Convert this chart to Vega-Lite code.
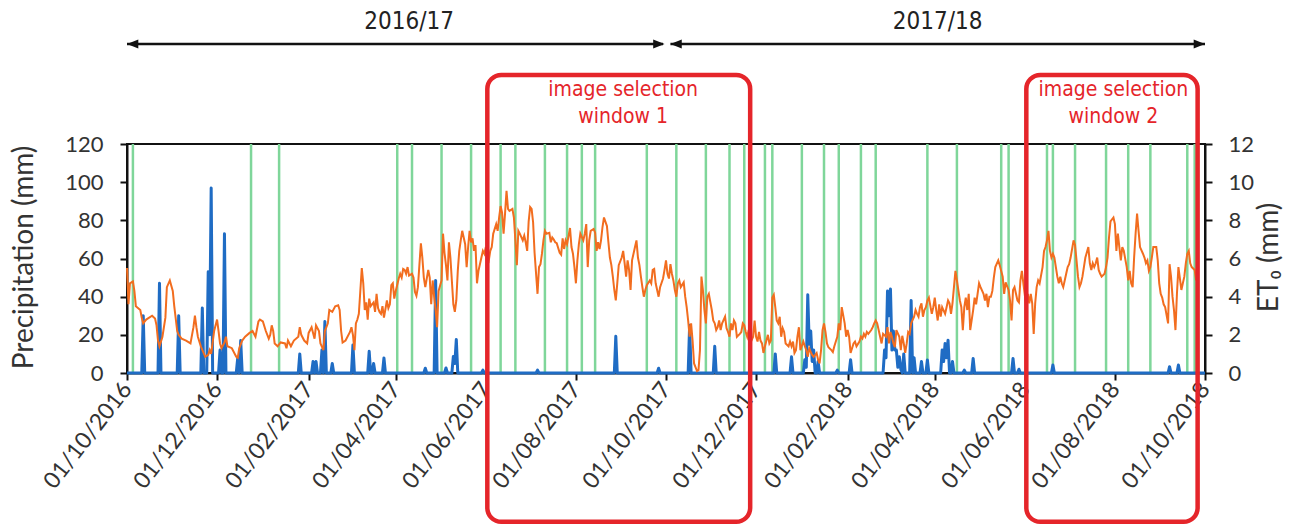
{
  "$schema": "https://vega.github.io/schema/vega-lite/v6.json",
  "width": 1078,
  "height": 229,
  "autosize": "none",
  "padding": {"left": 127, "top": 144, "right": 106, "bottom": 153},
  "background": "white",
  "config": {
    "view": {"stroke": "#111111", "strokeWidth": 2},
    "font": "Lato",
    "axis": {"grid": false, "labelFont": "Lato", "titleFont": "Lato", "labelColor": "#333333", "titleColor": "#333333", "titleFontWeight": "normal", "domainColor": "#111111", "domainWidth": 2, "tickColor": "#111111", "tickWidth": 2, "tickSize": 7}
  },
  "datasets": {
    "images": [
      {"d": "2016-10-05"}, {"d": "2016-12-24"}, {"d": "2017-01-12"}, {"d": "2017-04-02"}, {"d": "2017-04-12"},
      {"d": "2017-05-02"}, {"d": "2017-05-22"}, {"d": "2017-06-11"}, {"d": "2017-06-21"}, {"d": "2017-07-11"},
      {"d": "2017-07-26"}, {"d": "2017-08-05"}, {"d": "2017-08-14"}, {"d": "2017-09-18"}, {"d": "2017-10-08"},
      {"d": "2017-10-28"}, {"d": "2017-11-13"}, {"d": "2017-11-23"}, {"d": "2017-12-07"}, {"d": "2017-12-12"},
      {"d": "2018-01-01"}, {"d": "2018-01-16"}, {"d": "2018-01-26"}, {"d": "2018-02-10"}, {"d": "2018-02-20"},
      {"d": "2018-03-27"}, {"d": "2018-04-16"}, {"d": "2018-05-16"}, {"d": "2018-05-21"}, {"d": "2018-06-16"},
      {"d": "2018-06-20"}, {"d": "2018-07-05"}, {"d": "2018-07-26"}, {"d": "2018-08-10"}, {"d": "2018-08-25"},
      {"d": "2018-09-19"}, {"d": "2018-09-24"}
    ],
    "precip": [
      {"d": "2016-10-01", "p": 0}, {"d": "2016-10-11", "p": 0}, {"d": "2016-10-12", "p": 30}, {"d": "2016-10-13", "p": 0},
      {"d": "2016-10-22", "p": 0}, {"d": "2016-10-23", "p": 47}, {"d": "2016-10-24", "p": 0},
      {"d": "2016-11-04", "p": 0}, {"d": "2016-11-05", "p": 30}, {"d": "2016-11-06", "p": 0},
      {"d": "2016-11-20", "p": 0}, {"d": "2016-11-21", "p": 34}, {"d": "2016-11-22", "p": 0},
      {"d": "2016-11-24", "p": 0}, {"d": "2016-11-25", "p": 53}, {"d": "2016-11-26", "p": 20}, {"d": "2016-11-27", "p": 97}, {"d": "2016-11-28", "p": 0},
      {"d": "2016-12-02", "p": 0}, {"d": "2016-12-03", "p": 12}, {"d": "2016-12-04", "p": 0},
      {"d": "2016-12-05", "p": 0}, {"d": "2016-12-06", "p": 73}, {"d": "2016-12-07", "p": 0},
      {"d": "2016-12-14", "p": 0}, {"d": "2016-12-15", "p": 8}, {"d": "2016-12-16", "p": 0}, {"d": "2016-12-17", "p": 17}, {"d": "2016-12-18", "p": 0},
      {"d": "2017-01-25", "p": 0}, {"d": "2017-01-26", "p": 10}, {"d": "2017-01-27", "p": 0},
      {"d": "2017-02-03", "p": 0}, {"d": "2017-02-04", "p": 6}, {"d": "2017-02-05", "p": 0}, {"d": "2017-02-06", "p": 6}, {"d": "2017-02-07", "p": 0},
      {"d": "2017-02-09", "p": 0}, {"d": "2017-02-10", "p": 12}, {"d": "2017-02-11", "p": 0}, {"d": "2017-02-12", "p": 27}, {"d": "2017-02-13", "p": 0},
      {"d": "2017-02-16", "p": 0}, {"d": "2017-02-17", "p": 5}, {"d": "2017-02-18", "p": 0},
      {"d": "2017-03-02", "p": 0}, {"d": "2017-03-03", "p": 14.7}, {"d": "2017-03-04", "p": 0},
      {"d": "2017-03-13", "p": 0}, {"d": "2017-03-14", "p": 11.4}, {"d": "2017-03-15", "p": 0},
      {"d": "2017-03-16", "p": 0}, {"d": "2017-03-17", "p": 5}, {"d": "2017-03-18", "p": 0},
      {"d": "2017-03-23", "p": 0}, {"d": "2017-03-24", "p": 7.9}, {"d": "2017-03-25", "p": 0},
      {"d": "2017-04-20", "p": 0}, {"d": "2017-04-21", "p": 2.5}, {"d": "2017-04-22", "p": 0},
      {"d": "2017-04-27", "p": 0}, {"d": "2017-04-28", "p": 48.5}, {"d": "2017-04-29", "p": 0},
      {"d": "2017-05-04", "p": 0}, {"d": "2017-05-05", "p": 2.6}, {"d": "2017-05-06", "p": 0},
      {"d": "2017-05-09", "p": 0}, {"d": "2017-05-10", "p": 8.7}, {"d": "2017-05-11", "p": 5}, {"d": "2017-05-12", "p": 17.5}, {"d": "2017-05-13", "p": 0},
      {"d": "2017-05-29", "p": 0}, {"d": "2017-05-30", "p": 1.5}, {"d": "2017-05-31", "p": 0},
      {"d": "2017-07-05", "p": 0}, {"d": "2017-07-06", "p": 1.5}, {"d": "2017-07-07", "p": 0},
      {"d": "2017-08-27", "p": 0}, {"d": "2017-08-28", "p": 19.2}, {"d": "2017-08-29", "p": 0},
      {"d": "2017-09-25", "p": 0}, {"d": "2017-09-26", "p": 2.5}, {"d": "2017-09-27", "p": 0},
      {"d": "2017-10-16", "p": 0}, {"d": "2017-10-17", "p": 25}, {"d": "2017-10-18", "p": 0},
      {"d": "2017-11-02", "p": 0}, {"d": "2017-11-03", "p": 14}, {"d": "2017-11-04", "p": 0},
      {"d": "2017-12-13", "p": 0}, {"d": "2017-12-14", "p": 10}, {"d": "2017-12-15", "p": 0},
      {"d": "2017-12-24", "p": 0}, {"d": "2017-12-25", "p": 8.5}, {"d": "2017-12-26", "p": 0},
      {"d": "2018-01-02", "p": 0}, {"d": "2018-01-03", "p": 7}, {"d": "2018-01-04", "p": 3}, {"d": "2018-01-05", "p": 41}, {"d": "2018-01-06", "p": 15},
      {"d": "2018-01-07", "p": 22}, {"d": "2018-01-08", "p": 6}, {"d": "2018-01-09", "p": 12}, {"d": "2018-01-10", "p": 0},
      {"d": "2018-01-11", "p": 0}, {"d": "2018-01-12", "p": 6}, {"d": "2018-01-13", "p": 0},
      {"d": "2018-01-24", "p": 0}, {"d": "2018-01-25", "p": 1.5}, {"d": "2018-01-26", "p": 0},
      {"d": "2018-02-02", "p": 0}, {"d": "2018-02-03", "p": 7}, {"d": "2018-02-04", "p": 0},
      {"d": "2018-02-25", "p": 0}, {"d": "2018-02-26", "p": 12}, {"d": "2018-02-27", "p": 8}, {"d": "2018-02-28", "p": 43}, {"d": "2018-03-01", "p": 30},
      {"d": "2018-03-02", "p": 44}, {"d": "2018-03-03", "p": 12}, {"d": "2018-03-04", "p": 22}, {"d": "2018-03-05", "p": 12}, {"d": "2018-03-06", "p": 12},
      {"d": "2018-03-07", "p": 3}, {"d": "2018-03-08", "p": 8.5}, {"d": "2018-03-09", "p": 2}, {"d": "2018-03-10", "p": 0},
      {"d": "2018-03-11", "p": 10}, {"d": "2018-03-12", "p": 0},
      {"d": "2018-03-15", "p": 0}, {"d": "2018-03-16", "p": 38}, {"d": "2018-03-17", "p": 0}, {"d": "2018-03-18", "p": 8}, {"d": "2018-03-19", "p": 0},
      {"d": "2018-03-22", "p": 0}, {"d": "2018-03-23", "p": 6}, {"d": "2018-03-24", "p": 0},
      {"d": "2018-03-26", "p": 0}, {"d": "2018-03-27", "p": 6.8}, {"d": "2018-03-28", "p": 0},
      {"d": "2018-04-05", "p": 0}, {"d": "2018-04-06", "p": 12}, {"d": "2018-04-07", "p": 6}, {"d": "2018-04-08", "p": 15.5}, {"d": "2018-04-09", "p": 8},
      {"d": "2018-04-10", "p": 17.2}, {"d": "2018-04-11", "p": 0}, {"d": "2018-04-12", "p": 0}, {"d": "2018-04-13", "p": 6}, {"d": "2018-04-14", "p": 0},
      {"d": "2018-04-20", "p": 0}, {"d": "2018-04-21", "p": 1.5}, {"d": "2018-04-22", "p": 0},
      {"d": "2018-04-26", "p": 0}, {"d": "2018-04-27", "p": 7.6}, {"d": "2018-04-28", "p": 0},
      {"d": "2018-05-23", "p": 0}, {"d": "2018-05-24", "p": 7.6}, {"d": "2018-05-25", "p": 0},
      {"d": "2018-05-27", "p": 0}, {"d": "2018-05-28", "p": 2}, {"d": "2018-05-29", "p": 0},
      {"d": "2018-06-19", "p": 0}, {"d": "2018-06-20", "p": 4.2}, {"d": "2018-06-21", "p": 0},
      {"d": "2018-09-06", "p": 0}, {"d": "2018-09-07", "p": 3.3}, {"d": "2018-09-08", "p": 0},
      {"d": "2018-09-12", "p": 0}, {"d": "2018-09-13", "p": 4.2}, {"d": "2018-09-14", "p": 0},
      {"d": "2018-10-01", "p": 0}
    ],
    "et0": [
      {"d": "2016-10-01", "et": 5.5}, {"d": "2016-10-02", "et": 3.6}, {"d": "2016-10-03", "et": 4.7}, {"d": "2016-10-05", "et": 4.8}, {"d": "2016-10-06", "et": 4.3},
      {"d": "2016-10-07", "et": 3.5}, {"d": "2016-10-10", "et": 3.3}, {"d": "2016-10-11", "et": 2.9}, {"d": "2016-10-12", "et": 2.6}, {"d": "2016-10-14", "et": 2.8},
      {"d": "2016-10-18", "et": 3.0}, {"d": "2016-10-20", "et": 2.85}, {"d": "2016-10-21", "et": 2.5}, {"d": "2016-10-22", "et": 1.7}, {"d": "2016-10-23", "et": 1.4},
      {"d": "2016-10-25", "et": 1.9}, {"d": "2016-10-27", "et": 2.9}, {"d": "2016-10-28", "et": 4.5}, {"d": "2016-10-30", "et": 4.85},
      {"d": "2016-11-01", "et": 4.3}, {"d": "2016-11-02", "et": 3.5}, {"d": "2016-11-04", "et": 2.2}, {"d": "2016-11-05", "et": 2.0}, {"d": "2016-11-07", "et": 1.8},
      {"d": "2016-11-10", "et": 1.7}, {"d": "2016-11-13", "et": 1.55}, {"d": "2016-11-15", "et": 2.4}, {"d": "2016-11-16", "et": 3.0}, {"d": "2016-11-17", "et": 2.4},
      {"d": "2016-11-18", "et": 1.9}, {"d": "2016-11-20", "et": 1.4}, {"d": "2016-11-23", "et": 0.85}, {"d": "2016-11-25", "et": 0.95}, {"d": "2016-11-26", "et": 1.2},
      {"d": "2016-11-27", "et": 1.0}, {"d": "2016-11-29", "et": 2.2},
      {"d": "2016-12-01", "et": 2.8}, {"d": "2016-12-02", "et": 2.2}, {"d": "2016-12-03", "et": 1.55}, {"d": "2016-12-04", "et": 1.3}, {"d": "2016-12-06", "et": 1.6},
      {"d": "2016-12-07", "et": 1.9}, {"d": "2016-12-08", "et": 1.4}, {"d": "2016-12-11", "et": 1.3}, {"d": "2016-12-13", "et": 1.0}, {"d": "2016-12-14", "et": 0.85},
      {"d": "2016-12-15", "et": 0.8}, {"d": "2016-12-16", "et": 1.3}, {"d": "2016-12-18", "et": 1.7}, {"d": "2016-12-20", "et": 1.9}, {"d": "2016-12-23", "et": 2.1},
      {"d": "2016-12-25", "et": 2.2}, {"d": "2016-12-27", "et": 1.9}, {"d": "2016-12-29", "et": 2.7}, {"d": "2016-12-30", "et": 2.8},
      {"d": "2017-01-01", "et": 2.7}, {"d": "2017-01-03", "et": 2.2}, {"d": "2017-01-05", "et": 1.8}, {"d": "2017-01-06", "et": 2.0}, {"d": "2017-01-07", "et": 2.5},
      {"d": "2017-01-08", "et": 2.2}, {"d": "2017-01-09", "et": 1.55}, {"d": "2017-01-11", "et": 1.4}, {"d": "2017-01-13", "et": 1.6}, {"d": "2017-01-16", "et": 1.55},
      {"d": "2017-01-17", "et": 1.3}, {"d": "2017-01-18", "et": 1.7}, {"d": "2017-01-20", "et": 1.4}, {"d": "2017-01-22", "et": 1.7}, {"d": "2017-01-25", "et": 1.9},
      {"d": "2017-01-26", "et": 2.4}, {"d": "2017-01-27", "et": 2.0}, {"d": "2017-01-29", "et": 1.7}, {"d": "2017-01-31", "et": 1.55},
      {"d": "2017-02-01", "et": 2.1}, {"d": "2017-02-03", "et": 2.4}, {"d": "2017-02-05", "et": 1.8}, {"d": "2017-02-06", "et": 2.5}, {"d": "2017-02-08", "et": 2.2},
      {"d": "2017-02-09", "et": 1.55}, {"d": "2017-02-11", "et": 1.2}, {"d": "2017-02-12", "et": 2.2}, {"d": "2017-02-14", "et": 2.6}, {"d": "2017-02-15", "et": 3.3},
      {"d": "2017-02-17", "et": 3.2}, {"d": "2017-02-19", "et": 3.5}, {"d": "2017-02-21", "et": 3.55}, {"d": "2017-02-22", "et": 3.3}, {"d": "2017-02-23", "et": 2.2},
      {"d": "2017-02-24", "et": 1.6}, {"d": "2017-02-26", "et": 1.7},
      {"d": "2017-03-01", "et": 2.15}, {"d": "2017-03-02", "et": 2.4}, {"d": "2017-03-03", "et": 2.0}, {"d": "2017-03-04", "et": 1.2}, {"d": "2017-03-05", "et": 2.6},
      {"d": "2017-03-06", "et": 2.8}, {"d": "2017-03-07", "et": 3.1}, {"d": "2017-03-08", "et": 4.3}, {"d": "2017-03-09", "et": 5.5}, {"d": "2017-03-10", "et": 4.7},
      {"d": "2017-03-11", "et": 3.3}, {"d": "2017-03-12", "et": 3.7}, {"d": "2017-03-13", "et": 2.8}, {"d": "2017-03-14", "et": 3.9}, {"d": "2017-03-15", "et": 3.5},
      {"d": "2017-03-17", "et": 3.7}, {"d": "2017-03-18", "et": 3.2}, {"d": "2017-03-19", "et": 4.15}, {"d": "2017-03-20", "et": 3.4}, {"d": "2017-03-21", "et": 3.2},
      {"d": "2017-03-22", "et": 3.1}, {"d": "2017-03-23", "et": 3.5}, {"d": "2017-03-24", "et": 2.9}, {"d": "2017-03-26", "et": 3.8}, {"d": "2017-03-27", "et": 3.4},
      {"d": "2017-03-28", "et": 3.6}, {"d": "2017-03-29", "et": 4.6}, {"d": "2017-03-30", "et": 4.7}, {"d": "2017-03-31", "et": 3.9},
      {"d": "2017-04-01", "et": 4.3}, {"d": "2017-04-03", "et": 4.95}, {"d": "2017-04-04", "et": 5.2}, {"d": "2017-04-05", "et": 5.0}, {"d": "2017-04-06", "et": 5.45},
      {"d": "2017-04-07", "et": 5.4}, {"d": "2017-04-08", "et": 5.2}, {"d": "2017-04-09", "et": 5.55}, {"d": "2017-04-10", "et": 5.1}, {"d": "2017-04-12", "et": 5.2},
      {"d": "2017-04-13", "et": 5.0}, {"d": "2017-04-14", "et": 4.25}, {"d": "2017-04-15", "et": 4.05}, {"d": "2017-04-16", "et": 4.5}, {"d": "2017-04-17", "et": 5.65},
      {"d": "2017-04-18", "et": 6.8}, {"d": "2017-04-19", "et": 6.05}, {"d": "2017-04-20", "et": 5.0}, {"d": "2017-04-21", "et": 4.5}, {"d": "2017-04-23", "et": 5.4},
      {"d": "2017-04-24", "et": 5.0}, {"d": "2017-04-25", "et": 3.6}, {"d": "2017-04-26", "et": 4.85}, {"d": "2017-04-27", "et": 4.0}, {"d": "2017-04-28", "et": 3.3},
      {"d": "2017-04-29", "et": 2.4}, {"d": "2017-04-30", "et": 4.3},
      {"d": "2017-05-02", "et": 4.85}, {"d": "2017-05-03", "et": 7.3}, {"d": "2017-05-04", "et": 6.3}, {"d": "2017-05-05", "et": 5.65}, {"d": "2017-05-06", "et": 4.85},
      {"d": "2017-05-07", "et": 6.85}, {"d": "2017-05-08", "et": 6.05}, {"d": "2017-05-10", "et": 3.6}, {"d": "2017-05-11", "et": 3.2}, {"d": "2017-05-12", "et": 3.8},
      {"d": "2017-05-13", "et": 5.35}, {"d": "2017-05-14", "et": 6.4}, {"d": "2017-05-15", "et": 6.95}, {"d": "2017-05-16", "et": 7.45}, {"d": "2017-05-18", "et": 6.75},
      {"d": "2017-05-19", "et": 5.55}, {"d": "2017-05-20", "et": 6.6}, {"d": "2017-05-21", "et": 7.45}, {"d": "2017-05-22", "et": 6.85}, {"d": "2017-05-23", "et": 7.05},
      {"d": "2017-05-24", "et": 6.4}, {"d": "2017-05-25", "et": 6.7}, {"d": "2017-05-26", "et": 4.7}, {"d": "2017-05-27", "et": 5.35}, {"d": "2017-05-29", "et": 6.05},
      {"d": "2017-05-30", "et": 6.4}, {"d": "2017-05-31", "et": 6.25},
      {"d": "2017-06-01", "et": 6.6}, {"d": "2017-06-02", "et": 6.05}, {"d": "2017-06-03", "et": 5.9}, {"d": "2017-06-04", "et": 6.4}, {"d": "2017-06-05", "et": 6.6},
      {"d": "2017-06-06", "et": 7.3}, {"d": "2017-06-08", "et": 7.8}, {"d": "2017-06-09", "et": 7.45}, {"d": "2017-06-10", "et": 8.15}, {"d": "2017-06-11", "et": 8.75},
      {"d": "2017-06-12", "et": 8.4}, {"d": "2017-06-13", "et": 7.3}, {"d": "2017-06-14", "et": 8.35}, {"d": "2017-06-15", "et": 9.55}, {"d": "2017-06-16", "et": 8.6},
      {"d": "2017-06-17", "et": 8.5}, {"d": "2017-06-19", "et": 8.6}, {"d": "2017-06-20", "et": 8.15}, {"d": "2017-06-21", "et": 6.95}, {"d": "2017-06-22", "et": 5.65},
      {"d": "2017-06-23", "et": 7.45}, {"d": "2017-06-24", "et": 7.3}, {"d": "2017-06-26", "et": 6.95}, {"d": "2017-06-27", "et": 7.2}, {"d": "2017-06-28", "et": 6.85},
      {"d": "2017-06-29", "et": 6.4}, {"d": "2017-06-30", "et": 7.95},
      {"d": "2017-07-01", "et": 8.7}, {"d": "2017-07-02", "et": 8.6}, {"d": "2017-07-03", "et": 7.9}, {"d": "2017-07-04", "et": 6.3}, {"d": "2017-07-06", "et": 4.15},
      {"d": "2017-07-07", "et": 5.55}, {"d": "2017-07-08", "et": 5.7}, {"d": "2017-07-09", "et": 6.25}, {"d": "2017-07-10", "et": 6.95}, {"d": "2017-07-11", "et": 7.45},
      {"d": "2017-07-12", "et": 7.3}, {"d": "2017-07-14", "et": 7.35}, {"d": "2017-07-15", "et": 6.85}, {"d": "2017-07-16", "et": 7.1}, {"d": "2017-07-17", "et": 7.0},
      {"d": "2017-07-18", "et": 6.85}, {"d": "2017-07-19", "et": 6.8}, {"d": "2017-07-21", "et": 6.3}, {"d": "2017-07-22", "et": 6.2}, {"d": "2017-07-23", "et": 7.05},
      {"d": "2017-07-24", "et": 6.5}, {"d": "2017-07-25", "et": 6.95}, {"d": "2017-07-26", "et": 6.75}, {"d": "2017-07-28", "et": 7.6}, {"d": "2017-07-29", "et": 6.6},
      {"d": "2017-07-30", "et": 6.25}, {"d": "2017-07-31", "et": 5.55},
      {"d": "2017-08-01", "et": 4.7}, {"d": "2017-08-02", "et": 5.9}, {"d": "2017-08-03", "et": 6.75}, {"d": "2017-08-04", "et": 7.3}, {"d": "2017-08-06", "et": 6.95},
      {"d": "2017-08-07", "et": 7.3}, {"d": "2017-08-08", "et": 7.8}, {"d": "2017-08-09", "et": 5.55}, {"d": "2017-08-10", "et": 6.95}, {"d": "2017-08-11", "et": 7.45},
      {"d": "2017-08-13", "et": 7.55}, {"d": "2017-08-14", "et": 7.35}, {"d": "2017-08-15", "et": 6.4}, {"d": "2017-08-16", "et": 6.85}, {"d": "2017-08-17", "et": 6.5},
      {"d": "2017-08-18", "et": 6.95}, {"d": "2017-08-19", "et": 7.65}, {"d": "2017-08-20", "et": 8.15}, {"d": "2017-08-22", "et": 7.7}, {"d": "2017-08-23", "et": 6.85},
      {"d": "2017-08-24", "et": 6.05}, {"d": "2017-08-25", "et": 5.65}, {"d": "2017-08-26", "et": 5.05}, {"d": "2017-08-27", "et": 4.35}, {"d": "2017-08-28", "et": 3.8},
      {"d": "2017-08-29", "et": 4.7}, {"d": "2017-08-30", "et": 5.65},
      {"d": "2017-09-01", "et": 6.05}, {"d": "2017-09-02", "et": 6.4}, {"d": "2017-09-03", "et": 5.75}, {"d": "2017-09-04", "et": 5.05}, {"d": "2017-09-05", "et": 5.9},
      {"d": "2017-09-06", "et": 5.4}, {"d": "2017-09-07", "et": 4.35}, {"d": "2017-09-08", "et": 5.9}, {"d": "2017-09-10", "et": 6.6}, {"d": "2017-09-11", "et": 6.95},
      {"d": "2017-09-12", "et": 6.05}, {"d": "2017-09-13", "et": 5.65}, {"d": "2017-09-14", "et": 5.05}, {"d": "2017-09-15", "et": 4.5}, {"d": "2017-09-16", "et": 4.0},
      {"d": "2017-09-17", "et": 4.35}, {"d": "2017-09-18", "et": 4.6}, {"d": "2017-09-20", "et": 4.85}, {"d": "2017-09-21", "et": 4.7}, {"d": "2017-09-22", "et": 5.4},
      {"d": "2017-09-23", "et": 5.45}, {"d": "2017-09-24", "et": 4.7}, {"d": "2017-09-25", "et": 4.35}, {"d": "2017-09-26", "et": 4.0}, {"d": "2017-09-27", "et": 4.5},
      {"d": "2017-09-29", "et": 4.95}, {"d": "2017-09-30", "et": 5.4},
      {"d": "2017-10-01", "et": 5.9}, {"d": "2017-10-02", "et": 5.2}, {"d": "2017-10-03", "et": 4.95}, {"d": "2017-10-04", "et": 5.7}, {"d": "2017-10-05", "et": 5.2},
      {"d": "2017-10-06", "et": 4.85}, {"d": "2017-10-07", "et": 4.35}, {"d": "2017-10-08", "et": 4.0}, {"d": "2017-10-09", "et": 4.7}, {"d": "2017-10-10", "et": 4.85},
      {"d": "2017-10-11", "et": 4.5}, {"d": "2017-10-13", "et": 4.75}, {"d": "2017-10-14", "et": 4.0}, {"d": "2017-10-15", "et": 3.45}, {"d": "2017-10-16", "et": 2.75},
      {"d": "2017-10-17", "et": 1.9}, {"d": "2017-10-18", "et": 2.6}, {"d": "2017-10-19", "et": 1.7}, {"d": "2017-10-20", "et": 0.5}, {"d": "2017-10-22", "et": 0.1},
      {"d": "2017-10-23", "et": 0.15}, {"d": "2017-10-24", "et": 1.2}, {"d": "2017-10-25", "et": 5.05}, {"d": "2017-10-26", "et": 4.35}, {"d": "2017-10-27", "et": 3.3},
      {"d": "2017-10-28", "et": 2.6}, {"d": "2017-10-29", "et": 4.0}, {"d": "2017-10-30", "et": 4.15},
      {"d": "2017-11-01", "et": 3.3}, {"d": "2017-11-02", "et": 2.75}, {"d": "2017-11-03", "et": 2.6}, {"d": "2017-11-04", "et": 2.25}, {"d": "2017-11-05", "et": 2.4},
      {"d": "2017-11-06", "et": 2.75}, {"d": "2017-11-07", "et": 2.25}, {"d": "2017-11-08", "et": 2.6}, {"d": "2017-11-10", "et": 2.95}, {"d": "2017-11-11", "et": 2.35},
      {"d": "2017-11-12", "et": 2.15}, {"d": "2017-11-13", "et": 1.9}, {"d": "2017-11-14", "et": 2.6}, {"d": "2017-11-15", "et": 2.25}, {"d": "2017-11-16", "et": 2.75},
      {"d": "2017-11-17", "et": 2.6}, {"d": "2017-11-18", "et": 1.9}, {"d": "2017-11-20", "et": 2.05}, {"d": "2017-11-21", "et": 2.15}, {"d": "2017-11-22", "et": 2.6},
      {"d": "2017-11-23", "et": 2.5}, {"d": "2017-11-24", "et": 2.15}, {"d": "2017-11-25", "et": 1.9}, {"d": "2017-11-26", "et": 2.25}, {"d": "2017-11-27", "et": 1.55},
      {"d": "2017-11-29", "et": 1.9}, {"d": "2017-11-30", "et": 2.75},
      {"d": "2017-12-01", "et": 1.9}, {"d": "2017-12-02", "et": 1.65}, {"d": "2017-12-03", "et": 2.15}, {"d": "2017-12-04", "et": 1.7}, {"d": "2017-12-05", "et": 1.55},
      {"d": "2017-12-06", "et": 1.05}, {"d": "2017-12-07", "et": 1.4}, {"d": "2017-12-09", "et": 2.0}, {"d": "2017-12-10", "et": 1.55}, {"d": "2017-12-11", "et": 1.7},
      {"d": "2017-12-12", "et": 3.95}, {"d": "2017-12-13", "et": 4.1}, {"d": "2017-12-14", "et": 3.45}, {"d": "2017-12-15", "et": 2.75}, {"d": "2017-12-16", "et": 2.6},
      {"d": "2017-12-17", "et": 2.95}, {"d": "2017-12-18", "et": 1.9}, {"d": "2017-12-19", "et": 2.35}, {"d": "2017-12-20", "et": 2.15}, {"d": "2017-12-21", "et": 1.55},
      {"d": "2017-12-23", "et": 1.4}, {"d": "2017-12-24", "et": 1.65}, {"d": "2017-12-25", "et": 1.4}, {"d": "2017-12-26", "et": 1.65}, {"d": "2017-12-27", "et": 1.05},
      {"d": "2017-12-28", "et": 1.2}, {"d": "2017-12-29", "et": 1.9}, {"d": "2017-12-30", "et": 2.4}, {"d": "2017-12-31", "et": 1.2},
      {"d": "2018-01-02", "et": 1.65}, {"d": "2018-01-03", "et": 1.4}, {"d": "2018-01-04", "et": 1.2}, {"d": "2018-01-05", "et": 0.85}, {"d": "2018-01-06", "et": 1.3},
      {"d": "2018-01-07", "et": 1.1}, {"d": "2018-01-08", "et": 0.95}, {"d": "2018-01-09", "et": 0.85}, {"d": "2018-01-11", "et": 1.05}, {"d": "2018-01-12", "et": 0.7},
      {"d": "2018-01-13", "et": 0.5}, {"d": "2018-01-14", "et": 1.2}, {"d": "2018-01-15", "et": 2.25}, {"d": "2018-01-16", "et": 2.6}, {"d": "2018-01-17", "et": 2.15},
      {"d": "2018-01-18", "et": 1.55}, {"d": "2018-01-19", "et": 1.35}, {"d": "2018-01-21", "et": 1.2}, {"d": "2018-01-22", "et": 1.1}, {"d": "2018-01-23", "et": 1.4},
      {"d": "2018-01-24", "et": 1.65}, {"d": "2018-01-25", "et": 1.9}, {"d": "2018-01-26", "et": 2.6}, {"d": "2018-01-27", "et": 2.25}, {"d": "2018-01-28", "et": 3.45},
      {"d": "2018-01-30", "et": 2.6}, {"d": "2018-01-31", "et": 1.9},
      {"d": "2018-02-01", "et": 2.25}, {"d": "2018-02-02", "et": 1.9}, {"d": "2018-02-03", "et": 1.05}, {"d": "2018-02-04", "et": 1.3}, {"d": "2018-02-05", "et": 1.55},
      {"d": "2018-02-06", "et": 1.65}, {"d": "2018-02-07", "et": 1.4}, {"d": "2018-02-09", "et": 1.65}, {"d": "2018-02-10", "et": 1.9}, {"d": "2018-02-11", "et": 1.8},
      {"d": "2018-02-12", "et": 2.05}, {"d": "2018-02-13", "et": 1.9}, {"d": "2018-02-14", "et": 2.15}, {"d": "2018-02-15", "et": 2.05}, {"d": "2018-02-17", "et": 2.25},
      {"d": "2018-02-18", "et": 2.4}, {"d": "2018-02-19", "et": 2.6}, {"d": "2018-02-20", "et": 2.75}, {"d": "2018-02-21", "et": 2.6}, {"d": "2018-02-22", "et": 2.25},
      {"d": "2018-02-23", "et": 1.9}, {"d": "2018-02-24", "et": 1.55}, {"d": "2018-02-25", "et": 2.05}, {"d": "2018-02-27", "et": 1.9}, {"d": "2018-02-28", "et": 2.4},
      {"d": "2018-03-01", "et": 1.55}, {"d": "2018-03-02", "et": 2.15}, {"d": "2018-03-03", "et": 1.9}, {"d": "2018-03-04", "et": 1.55}, {"d": "2018-03-05", "et": 1.35},
      {"d": "2018-03-06", "et": 2.25}, {"d": "2018-03-08", "et": 1.9}, {"d": "2018-03-09", "et": 1.2}, {"d": "2018-03-10", "et": 1.95}, {"d": "2018-03-11", "et": 1.55},
      {"d": "2018-03-12", "et": 1.05}, {"d": "2018-03-13", "et": 1.55}, {"d": "2018-03-14", "et": 2.15}, {"d": "2018-03-15", "et": 2.05}, {"d": "2018-03-16", "et": 2.6},
      {"d": "2018-03-18", "et": 2.95}, {"d": "2018-03-19", "et": 3.3}, {"d": "2018-03-20", "et": 3.1}, {"d": "2018-03-21", "et": 2.95}, {"d": "2018-03-22", "et": 3.45},
      {"d": "2018-03-23", "et": 3.65}, {"d": "2018-03-24", "et": 2.95}, {"d": "2018-03-25", "et": 3.3}, {"d": "2018-03-26", "et": 3.45}, {"d": "2018-03-27", "et": 3.8},
      {"d": "2018-03-28", "et": 3.95}, {"d": "2018-03-30", "et": 3.1}, {"d": "2018-03-31", "et": 3.45},
      {"d": "2018-04-01", "et": 3.95}, {"d": "2018-04-02", "et": 3.3}, {"d": "2018-04-03", "et": 2.75}, {"d": "2018-04-04", "et": 3.6}, {"d": "2018-04-05", "et": 2.95},
      {"d": "2018-04-06", "et": 3.45}, {"d": "2018-04-08", "et": 3.1}, {"d": "2018-04-09", "et": 3.45}, {"d": "2018-04-10", "et": 3.8}, {"d": "2018-04-11", "et": 3.65},
      {"d": "2018-04-12", "et": 3.1}, {"d": "2018-04-13", "et": 3.65}, {"d": "2018-04-14", "et": 4.5}, {"d": "2018-04-15", "et": 5.35}, {"d": "2018-04-16", "et": 4.85},
      {"d": "2018-04-18", "et": 3.8}, {"d": "2018-04-19", "et": 3.45}, {"d": "2018-04-20", "et": 2.25}, {"d": "2018-04-21", "et": 3.45}, {"d": "2018-04-22", "et": 3.95},
      {"d": "2018-04-23", "et": 3.3}, {"d": "2018-04-24", "et": 4.15}, {"d": "2018-04-25", "et": 2.25}, {"d": "2018-04-27", "et": 3.3}, {"d": "2018-04-28", "et": 3.95},
      {"d": "2018-04-29", "et": 3.6}, {"d": "2018-04-30", "et": 4.15},
      {"d": "2018-05-01", "et": 4.7}, {"d": "2018-05-02", "et": 4.5}, {"d": "2018-05-04", "et": 4.15}, {"d": "2018-05-05", "et": 3.8}, {"d": "2018-05-06", "et": 4.15},
      {"d": "2018-05-07", "et": 3.45}, {"d": "2018-05-08", "et": 4.0}, {"d": "2018-05-09", "et": 4.0}, {"d": "2018-05-10", "et": 4.3}, {"d": "2018-05-11", "et": 5.0},
      {"d": "2018-05-12", "et": 5.55}, {"d": "2018-05-14", "et": 5.9}, {"d": "2018-05-15", "et": 5.65}, {"d": "2018-05-16", "et": 5.35}, {"d": "2018-05-17", "et": 5.05},
      {"d": "2018-05-18", "et": 4.15}, {"d": "2018-05-19", "et": 4.75}, {"d": "2018-05-21", "et": 4.35}, {"d": "2018-05-22", "et": 3.8}, {"d": "2018-05-23", "et": 2.75},
      {"d": "2018-05-24", "et": 4.35}, {"d": "2018-05-25", "et": 4.5}, {"d": "2018-05-26", "et": 4.15}, {"d": "2018-05-27", "et": 3.8}, {"d": "2018-05-28", "et": 3.7},
      {"d": "2018-05-29", "et": 4.85}, {"d": "2018-05-30", "et": 5.35}, {"d": "2018-05-31", "et": 4.7},
      {"d": "2018-06-02", "et": 3.45}, {"d": "2018-06-03", "et": 4.15}, {"d": "2018-06-04", "et": 3.65}, {"d": "2018-06-05", "et": 4.15}, {"d": "2018-06-06", "et": 3.65},
      {"d": "2018-06-07", "et": 2.05}, {"d": "2018-06-08", "et": 3.65}, {"d": "2018-06-09", "et": 4.5}, {"d": "2018-06-10", "et": 4.85}, {"d": "2018-06-11", "et": 4.7},
      {"d": "2018-06-13", "et": 5.55}, {"d": "2018-06-14", "et": 6.4}, {"d": "2018-06-15", "et": 6.6}, {"d": "2018-06-16", "et": 6.95}, {"d": "2018-06-17", "et": 7.45},
      {"d": "2018-06-18", "et": 6.4}, {"d": "2018-06-19", "et": 6.05}, {"d": "2018-06-20", "et": 6.25}, {"d": "2018-06-21", "et": 6.05}, {"d": "2018-06-23", "et": 5.05},
      {"d": "2018-06-24", "et": 4.7}, {"d": "2018-06-25", "et": 5.05}, {"d": "2018-06-26", "et": 4.7}, {"d": "2018-06-27", "et": 4.5}, {"d": "2018-06-28", "et": 4.85},
      {"d": "2018-06-29", "et": 5.2}, {"d": "2018-06-30", "et": 5.55},
      {"d": "2018-07-01", "et": 5.7}, {"d": "2018-07-02", "et": 6.05}, {"d": "2018-07-04", "et": 6.95}, {"d": "2018-07-05", "et": 6.7}, {"d": "2018-07-06", "et": 5.9},
      {"d": "2018-07-07", "et": 5.05}, {"d": "2018-07-08", "et": 4.5}, {"d": "2018-07-09", "et": 4.7}, {"d": "2018-07-10", "et": 5.05}, {"d": "2018-07-11", "et": 5.55},
      {"d": "2018-07-12", "et": 6.05}, {"d": "2018-07-14", "et": 6.6}, {"d": "2018-07-15", "et": 5.75}, {"d": "2018-07-16", "et": 5.4}, {"d": "2018-07-17", "et": 5.75},
      {"d": "2018-07-18", "et": 5.55}, {"d": "2018-07-19", "et": 5.75}, {"d": "2018-07-20", "et": 6.05}, {"d": "2018-07-21", "et": 5.4}, {"d": "2018-07-22", "et": 5.2},
      {"d": "2018-07-23", "et": 5.05}, {"d": "2018-07-25", "et": 5.2}, {"d": "2018-07-26", "et": 5.55}, {"d": "2018-07-27", "et": 6.05}, {"d": "2018-07-28", "et": 7.1},
      {"d": "2018-07-29", "et": 7.95}, {"d": "2018-07-31", "et": 8.15},
      {"d": "2018-08-01", "et": 7.8}, {"d": "2018-08-02", "et": 6.4}, {"d": "2018-08-03", "et": 7.3}, {"d": "2018-08-04", "et": 6.6}, {"d": "2018-08-05", "et": 5.9},
      {"d": "2018-08-06", "et": 6.6}, {"d": "2018-08-07", "et": 6.4}, {"d": "2018-08-09", "et": 5.55}, {"d": "2018-08-10", "et": 4.85}, {"d": "2018-08-11", "et": 5.35},
      {"d": "2018-08-12", "et": 4.7}, {"d": "2018-08-13", "et": 4.5}, {"d": "2018-08-14", "et": 6.05}, {"d": "2018-08-15", "et": 7.3}, {"d": "2018-08-16", "et": 8.35},
      {"d": "2018-08-17", "et": 7.45}, {"d": "2018-08-18", "et": 6.6}, {"d": "2018-08-20", "et": 6.25}, {"d": "2018-08-21", "et": 6.05}, {"d": "2018-08-22", "et": 5.75},
      {"d": "2018-08-23", "et": 5.9}, {"d": "2018-08-24", "et": 5.35}, {"d": "2018-08-25", "et": 5.55}, {"d": "2018-08-26", "et": 6.05}, {"d": "2018-08-27", "et": 6.6},
      {"d": "2018-08-29", "et": 6.6}, {"d": "2018-08-30", "et": 5.9}, {"d": "2018-08-31", "et": 4.7},
      {"d": "2018-09-01", "et": 4.15}, {"d": "2018-09-02", "et": 3.95}, {"d": "2018-09-03", "et": 3.6}, {"d": "2018-09-04", "et": 3.45}, {"d": "2018-09-06", "et": 2.6},
      {"d": "2018-09-07", "et": 5.7}, {"d": "2018-09-08", "et": 5.05}, {"d": "2018-09-09", "et": 4.0}, {"d": "2018-09-10", "et": 3.3}, {"d": "2018-09-11", "et": 2.25},
      {"d": "2018-09-12", "et": 4.15}, {"d": "2018-09-13", "et": 5.55}, {"d": "2018-09-15", "et": 4.35}, {"d": "2018-09-16", "et": 4.7}, {"d": "2018-09-17", "et": 5.05},
      {"d": "2018-09-18", "et": 5.75}, {"d": "2018-09-19", "et": 6.25}, {"d": "2018-09-20", "et": 6.4}, {"d": "2018-09-21", "et": 5.75}, {"d": "2018-09-22", "et": 5.55},
      {"d": "2018-09-24", "et": 5.4}, {"d": "2018-09-25", "et": 4.85}
    ],
    "windows": [
      {"d": "2017-06-02", "d2": "2017-11-27"},
      {"d": "2018-06-02", "d2": "2018-09-26"}
    ],
    "windowLabels": [
      {"d": "2017-09-02", "label": ["image selection", "window 1"]},
      {"d": "2018-07-31", "label": ["image selection", "window 2"]}
    ],
    "seasons": [
      {"d": "2016-10-01", "d2": "2017-09-29"},
      {"d": "2017-10-04", "d2": "2018-10-01"}
    ],
    "seasonLabels": [
      {"d": "2017-04-10", "season": "2016/17"},
      {"d": "2018-04-03", "season": "2017/18"}
    ],
    "arrowheads": [
      {"d": "2016-10-01", "dir": "L"},
      {"d": "2017-09-30", "dir": "R"},
      {"d": "2017-10-04", "dir": "L"},
      {"d": "2018-10-01", "dir": "R"}
    ]
  },
  "encoding": {
    "x": {
      "field": "d",
      "type": "temporal",
      "scale": {"type": "utc", "domain": [{"year": 2016, "month": 10, "date": 1, "utc": true}, {"year": 2018, "month": 10, "date": 1, "utc": true}]},
      "axis": {
        "orient": "bottom",
        "title": null,
        "values": [
          {"year": 2016, "month": 10, "date": 1, "utc": true}, {"year": 2016, "month": 12, "date": 1, "utc": true},
          {"year": 2017, "month": 2, "date": 1, "utc": true}, {"year": 2017, "month": 4, "date": 1, "utc": true},
          {"year": 2017, "month": 6, "date": 1, "utc": true}, {"year": 2017, "month": 8, "date": 1, "utc": true},
          {"year": 2017, "month": 10, "date": 1, "utc": true}, {"year": 2017, "month": 12, "date": 1, "utc": true},
          {"year": 2018, "month": 2, "date": 1, "utc": true}, {"year": 2018, "month": 4, "date": 1, "utc": true},
          {"year": 2018, "month": 6, "date": 1, "utc": true}, {"year": 2018, "month": 8, "date": 1, "utc": true},
          {"year": 2018, "month": 10, "date": 1, "utc": true}
        ],
        "labelExpr": "utcFormat(datum.value, '%d/%m/%Y')",
        "labelAngle": -52,
        "labelAlign": "right",
        "labelBaseline": "middle",
        "labelFontSize": 23,
        "labelPadding": 5,
        "labelOverlap": false,
        "labelFlush": false,
        "labelBound": false
      }
    }
  },
  "layer": [
    {
      "data": {"name": "images"},
      "mark": {"type": "rule", "color": "#7fd69a", "strokeWidth": 2.5}
    },
    {
      "data": {"name": "precip"},
      "mark": {"type": "line", "color": "#1f6cc4", "strokeWidth": 3, "strokeJoin": "round"},
      "encoding": {
        "y": {
          "field": "p",
          "type": "quantitative",
          "scale": {"domain": [0, 120], "nice": false},
          "axis": {
            "orient": "left",
            "values": [0, 20, 40, 60, 80, 100, 120],
            "title": "Precipitation (mm)",
            "labelFontSize": 22,
            "labelPadding": 17,
            "titleFontSize": 28,
            "titleAngle": -90,
            "titleX": -103,
            "titleY": 113,
            "titleAlign": "center",
            "titleBaseline": "middle"
          }
        }
      }
    },
    {
      "data": {"name": "et0"},
      "mark": {"type": "line", "color": "#f26d1f", "strokeWidth": 2},
      "encoding": {
        "y": {
          "field": "et",
          "type": "quantitative",
          "scale": {"domain": [0, 12], "nice": false},
          "axis": {
            "orient": "right",
            "values": [0, 2, 4, 6, 8, 10, 12],
            "title": "ET₀ (mm)",
            "labelFontSize": 22,
            "labelPadding": 16,
            "titleFontSize": 28,
            "titleAngle": -90,
            "titleX": 64,
            "titleY": 113,
            "titleAlign": "center",
            "titleBaseline": "middle"
          }
        }
      }
    },
    {
      "data": {"name": "windows"},
      "mark": {"type": "rect", "fill": null, "stroke": "#e5252a", "strokeWidth": 4.5, "cornerRadius": 14},
      "encoding": {
        "x2": {"field": "d2"},
        "y": {"datum": 156.2, "type": "quantitative", "scale": {"domain": [0, 120], "nice": false}, "axis": null},
        "y2": {"datum": -78}
      }
    },
    {
      "data": {"name": "windowLabels"},
      "mark": {"type": "text", "color": "#e5252a", "font": "Liberation Sans Narrow, DejaVu Sans Condensed, Liberation Sans", "fontSize": 21, "lineHeight": 27, "align": "center", "baseline": "middle"},
      "encoding": {
        "text": {"field": "label"},
        "y": {"datum": 148.3, "type": "quantitative", "scale": {"domain": [0, 120], "nice": false}, "axis": null}
      }
    },
    {
      "data": {"name": "seasons"},
      "mark": {"type": "rule", "color": "#111111", "strokeWidth": 2.5},
      "encoding": {
        "x2": {"field": "d2"},
        "y": {"datum": 172.4, "type": "quantitative", "scale": {"domain": [0, 120], "nice": false}, "axis": null}
      }
    },
    {
      "data": {"name": "arrowheads"},
      "mark": {"type": "point", "filled": true, "color": "#111111", "opacity": 1, "size": 200},
      "encoding": {
        "shape": {"field": "dir", "type": "nominal", "scale": {"domain": ["L", "R"], "range": ["M0,0L1.6,-0.65L1.6,0.65Z", "M0,0L-1.6,-0.65L-1.6,0.65Z"]}, "legend": null},
        "y": {"datum": 172.4, "type": "quantitative", "scale": {"domain": [0, 120], "nice": false}, "axis": null}
      }
    },
    {
      "data": {"name": "seasonLabels"},
      "mark": {"type": "text", "color": "#222222", "font": "Liberation Sans Narrow, DejaVu Sans Condensed, Liberation Sans", "fontSize": 24, "align": "center", "baseline": "middle"},
      "encoding": {
        "text": {"field": "season"},
        "y": {"datum": 183.9, "type": "quantitative", "scale": {"domain": [0, 120], "nice": false}, "axis": null}
      }
    }
  ],
  "resolve": {"scale": {"y": "independent", "shape": "independent"}}
}
